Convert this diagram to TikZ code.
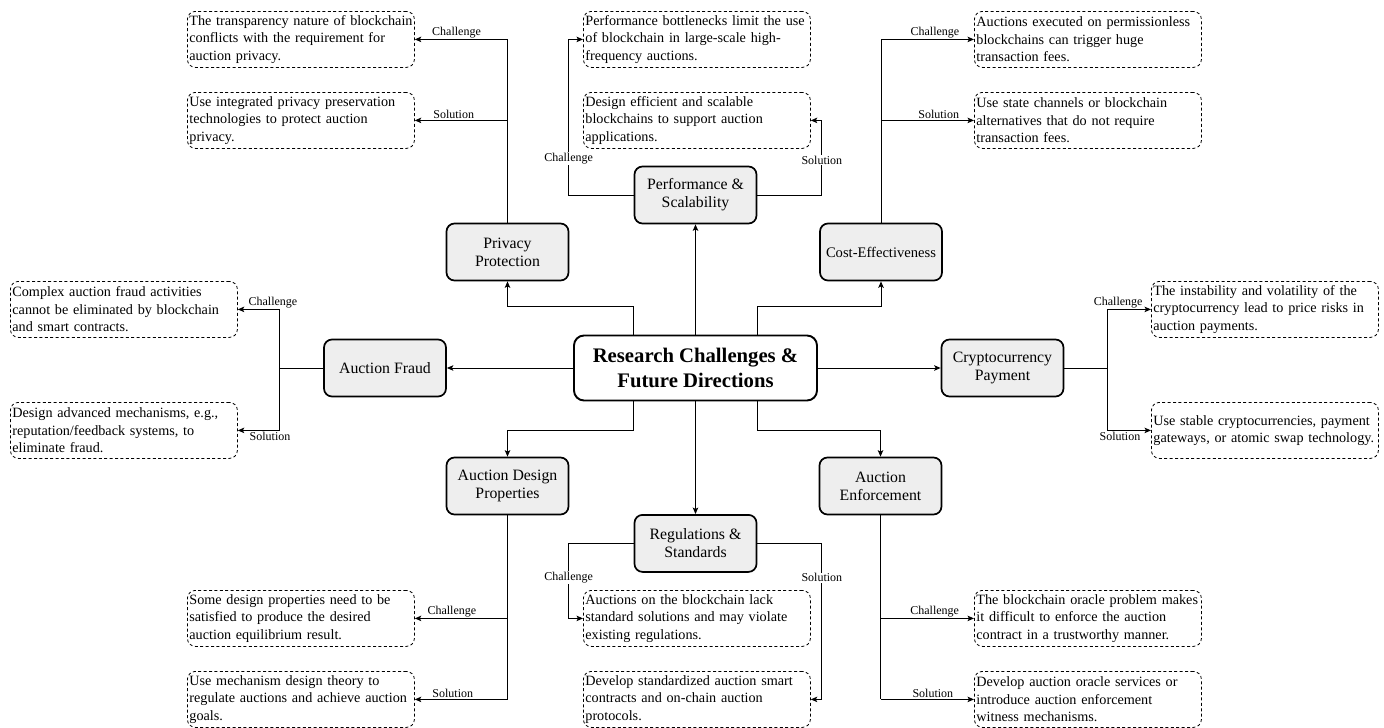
\documentclass[tikz,border=0pt]{standalone}
\usepackage{fontspec}
\setmainfont{Liberation Serif}
\usetikzlibrary{arrows.meta}
\definecolor{catfill}{RGB}{238,238,238}
% one unbreakable line of a challenge/solution box
\newcommand{\bline}[1]{\mbox{#1}}
\begin{document}
\begin{tikzpicture}[x=1pt,y=-1pt,
  every node/.style={font=\fontsize{14.4}{17.3}\selectfont},
  cat/.style={draw, line width=1.7pt, rounded corners=8pt, fill=catfill,
    minimum width=122pt, minimum height=57pt, align=center, inner sep=2pt,
    font=\fontsize{15.8}{18}\selectfont},
  hub/.style={draw, line width=1.9pt, rounded corners=10pt, fill=white,
    minimum width=243pt, minimum height=65pt, align=center,
    font=\fontsize{20.7}{24.8}\selectfont\bfseries},
  leaf/.style={draw, line width=0.8pt, dash pattern=on 3pt off 2.4pt,
    rounded corners=8pt, text width=223pt, minimum height=56pt,
    inner xsep=2pt, inner ysep=2pt, align=left, anchor=north west,
    font=\fontsize{14.2}{17.4}\selectfont},
  lbl/.style={font=\fontsize{12}{14}\selectfont, inner sep=1pt},
  conn/.style={line width=1pt},
  arr/.style={conn, -{Stealth[length=6.5pt,width=5.5pt,inset=1.5pt]}},
]
\useasboundingbox (0,0) rectangle (1384,728);

% central topic and the eight research areas
\node[hub] (hub) at (695.5,368) {Research Challenges \&\\Future Directions};
\node[cat] (privacy) at (507.5,252) {Privacy\\Protection};
\node[cat] (perf)    at (695.5,195) {Performance \&\\Scalability};
\node[cat, font=\fontsize{14.6}{17.5}\selectfont] (cost) at (881,252) {Cost-Effectiveness};
\node[cat] (fraud)   at (385,368)   {Auction Fraud};
\node[cat] (crypto)  at (1002.5,368) {Cryptocurrency\\Payment};
\node[cat] (design)  at (507.5,486) {Auction Design\\Properties};
\node[cat] (reg)     at (695.5,543.4) {Regulations \&\\Standards};
\node[cat] (enf)     at (880.5,486) {Auction\\Enforcement};

% challenge / solution boxes
\node[leaf] (privC) at (187,11) {\bline{The transparency nature of blockchain}\\\bline{conflicts with the requirement for}\\\bline{auction privacy.}};
\node[leaf] (privS) at (187,92) {\bline{Use integrated privacy preservation}\\\bline{technologies to protect auction}\\\bline{privacy.}};
\node[leaf] (perfC) at (583,11) {\bline{Performance bottlenecks limit the use}\\\bline{of blockchain in large-scale high-}\\\bline{frequency auctions.}};
\node[leaf] (perfS) at (583,92) {\bline{Design efficient and scalable}\\\bline{blockchains to support auction}\\\bline{applications.}};
\node[leaf] (costC) at (974,11) {\bline{Auctions executed on permissionless}\\\bline{blockchains can trigger huge}\\\bline{transaction fees.}};
\node[leaf] (costS) at (974,92) {\bline{Use state channels or blockchain}\\\bline{alternatives that do not require}\\\bline{transaction fees.}};
\node[leaf] (fraudC) at (10,281) {\bline{Complex auction fraud activities}\\\bline{cannot be eliminated by blockchain}\\\bline{and smart contracts.}};
\node[leaf] (fraudS) at (10,402) {\bline{Design advanced mechanisms, e.g.,}\\\bline{reputation/feedback systems, to}\\\bline{eliminate fraud.}};
\node[leaf] (cryptoC) at (1151,281) {\bline{The instability and volatility of the}\\\bline{cryptocurrency lead to price risks in}\\\bline{auction payments.}};
\node[leaf] (cryptoS) at (1151,402) {\bline{Use stable cryptocurrencies, payment}\\\bline{gateways, or atomic swap technology.}};
\node[leaf] (desC) at (187,590) {\bline{Some design properties need to be}\\\bline{satisfied to produce the desired}\\\bline{auction equilibrium result.}};
\node[leaf] (desS) at (187,671) {\bline{Use mechanism design theory to}\\\bline{regulate auctions and achieve auction}\\\bline{goals.}};
\node[leaf] (regC) at (583,590) {\bline{Auctions on the blockchain lack}\\\bline{standard solutions and may violate}\\\bline{existing regulations.}};
\node[leaf] (regS) at (583,671) {\bline{Develop standardized auction smart}\\\bline{contracts and on-chain auction}\\\bline{protocols.}};
\node[leaf] (enfC) at (974,590) {\bline{The blockchain oracle problem makes}\\\bline{it difficult to enforce the auction}\\\bline{contract in a trustworthy manner.}};
\node[leaf] (enfS) at (974,671) {\bline{Develop auction oracle services or}\\\bline{introduce auction enforcement}\\\bline{witness mechanisms.}};

% hub to research areas
\draw[arr] (hub.north) -- (perf.south);
\draw[arr] (hub.south) -- (reg.north);
\draw[arr] (hub.west) -- (fraud.east);
\draw[arr] (hub.east) -- (crypto.west);
\draw[arr] (hub.north -| perf.west) -- ++(0,-28) -| (privacy.south);
\draw[arr] (hub.north -| perf.east) -- ++(0,-28) -| (cost.south);
\draw[arr] (hub.south -| reg.west) -- ++(0,28.6) -| (design.north);
\draw[arr] (hub.south -| reg.east) -- ++(0,28.6) -| (enf.north);

% privacy protection
\draw[conn] (privacy.north) -- (privacy.north |- privC.east);
\draw[arr] (privacy.north |- privC.east) -- node[lbl,above,pos=0.55]{Challenge} (privC.east);
\draw[arr] (privacy.north |- privS.east) -- node[lbl,above,pos=0.58]{Solution} (privS.east);

% performance and scalability
\draw[arr] (perf.west) -- ++(-65,0) |- node[lbl,fill=white,pos=0.116]{Challenge} (perfC.west);
\draw[arr] (perf.east) -- ++(64.5,0) |- node[lbl,fill=white,pos=0.233]{Solution} (perfS.east);

% cost-effectiveness
\draw[conn] (cost.north) -- (cost.north |- costC.west);
\draw[arr] (cost.north |- costC.west) -- node[lbl,above,pos=0.58]{Challenge} (costC.west);
\draw[arr] (cost.north |- costS.west) -- node[lbl,above,pos=0.62]{Solution} (costS.west);

% auction fraud
\draw[conn] (fraud.west) -- ++(-44,0) coordinate (fj);
\draw[arr] (fj) |- node[lbl,above,pos=0.575]{Challenge} (fraudC.east);
\draw[arr] (fj) |- node[lbl,below,pos=0.61]{Solution} (fraudS.east);

% cryptocurrency payment
\draw[conn] (crypto.east) -- ++(43.5,0) coordinate (cj);
\draw[arr] (cj) |- node[lbl,above,pos=0.62]{Challenge} (cryptoC.west);
\draw[arr] (cj) |- node[lbl,below,pos=0.64]{Solution} (cryptoS.west);

% auction design properties
\draw[conn] (design.south) -- (design.south |- desS.east);
\draw[arr] (design.south |- desC.east) -- node[lbl,above,pos=0.6]{Challenge} (desC.east);
\draw[arr] (design.south |- desS.east) -- node[lbl,above,pos=0.59]{Solution} (desS.east);

% regulations and standards
\draw[arr] (reg.west) -- ++(-65,0) |- node[lbl,fill=white,pos=0.23]{Challenge} (regC.west);
\draw[arr] (reg.east) -- ++(64.5,0) |- node[lbl,fill=white,pos=0.11]{Solution} (regS.east);

% auction enforcement
\draw[conn] (enf.south) -- (enf.south |- enfS.west);
\draw[arr] (enf.south |- enfC.west) -- node[lbl,above,pos=0.58]{Challenge} (enfC.west);
\draw[arr] (enf.south |- enfS.west) -- node[lbl,above,pos=0.56]{Solution} (enfS.west);
\end{tikzpicture}
\end{document}
